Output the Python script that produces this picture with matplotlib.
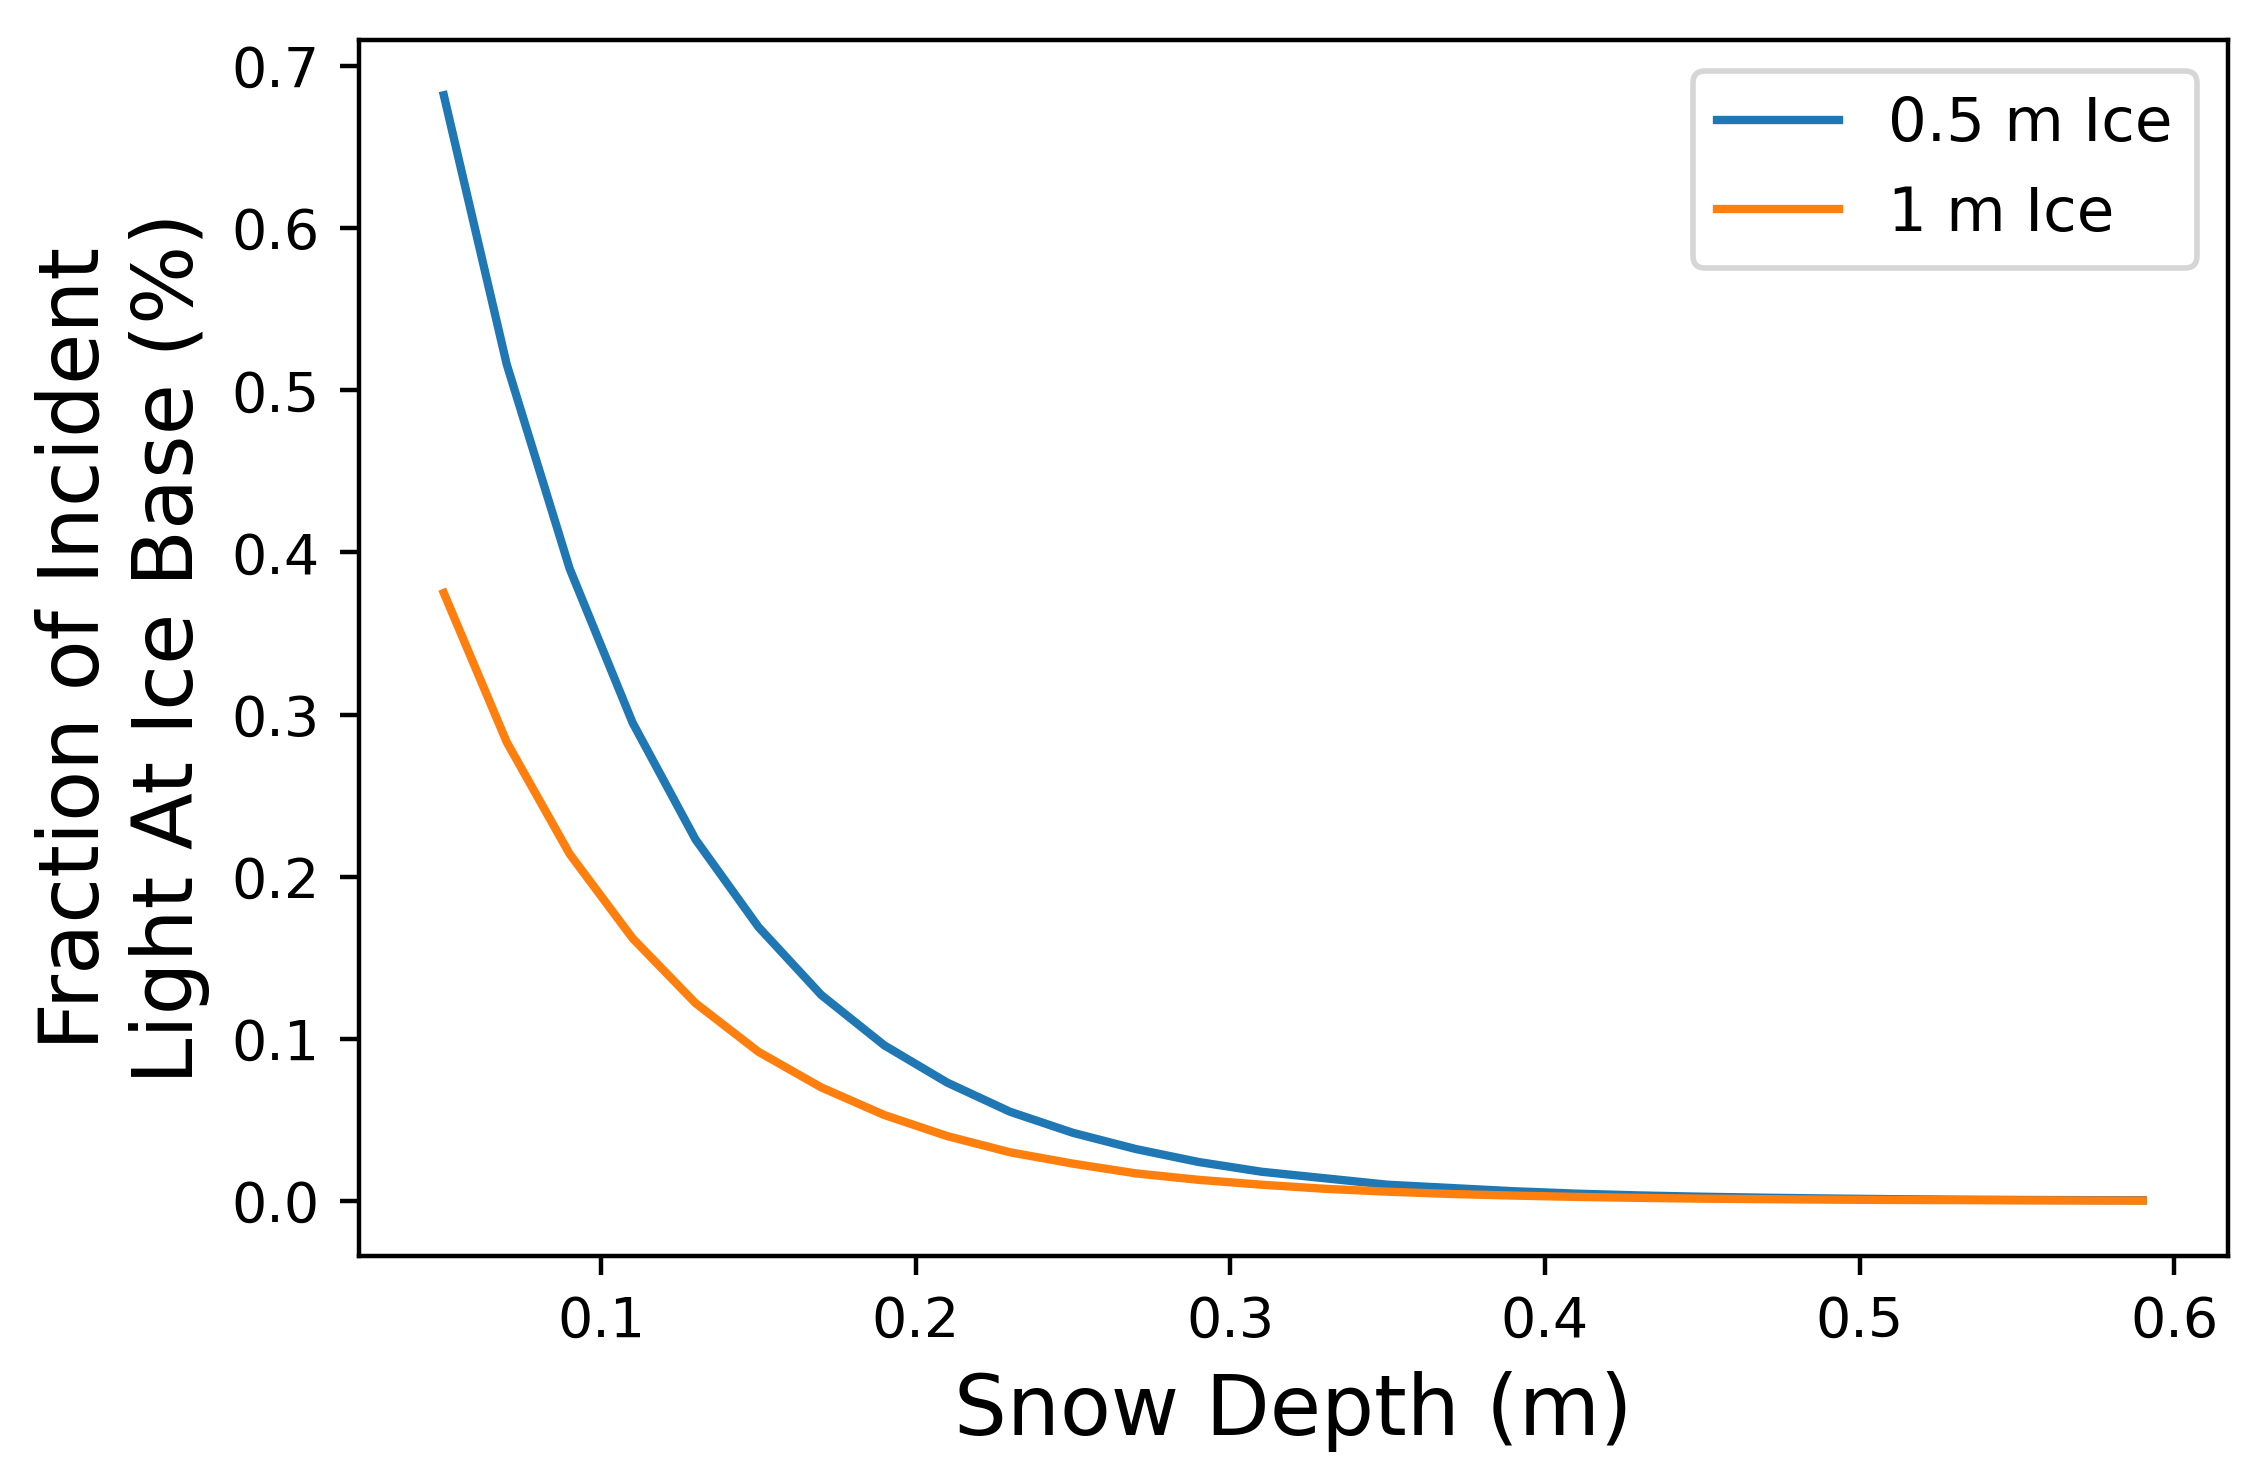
import matplotlib
matplotlib.use('Agg')
import matplotlib.pyplot as plt

snow_depth = [0.05, 0.07, 0.09, 0.11, 0.13, 0.15, 0.17, 0.19, 0.21, 0.23,
              0.25, 0.27, 0.29, 0.31, 0.33, 0.35, 0.37, 0.39, 0.41, 0.43,
              0.45, 0.47, 0.49, 0.51, 0.53, 0.55, 0.57, 0.59]
ice_half_m = [0.682, 0.516, 0.390, 0.295, 0.223, 0.169, 0.127, 0.096, 0.073,
              0.055, 0.042, 0.032, 0.024, 0.018, 0.014, 0.010, 0.008, 0.006,
              0.0045, 0.0034, 0.0026, 0.0020, 0.0015, 0.0011, 0.0008, 0.0006,
              0.0005, 0.0004]
ice_one_m = [0.375, 0.283, 0.214, 0.162, 0.122, 0.092, 0.070, 0.053, 0.040,
             0.030, 0.023, 0.017, 0.013, 0.010, 0.0075, 0.0057, 0.0043,
             0.0033, 0.0025, 0.0019, 0.0014, 0.0011, 0.0008, 0.0006, 0.0005,
             0.0004, 0.0003, 0.0002]

fig, ax = plt.subplots(figsize=(5.6425, 3.7025), dpi=400)
ax.plot(snow_depth, ice_half_m, label='0.5 m Ice')
ax.plot(snow_depth, ice_one_m, label='1 m Ice')
ax.set_xlabel('Snow Depth (m)', fontsize=15)
ax.set_ylabel('Fraction of Incident\nLight At Ice Base (%)', fontsize=15)
ax.legend(fontsize=11)
plt.subplots_adjust(left=0.159, right=0.987, top=0.973, bottom=0.152)
plt.savefig('out.png')
